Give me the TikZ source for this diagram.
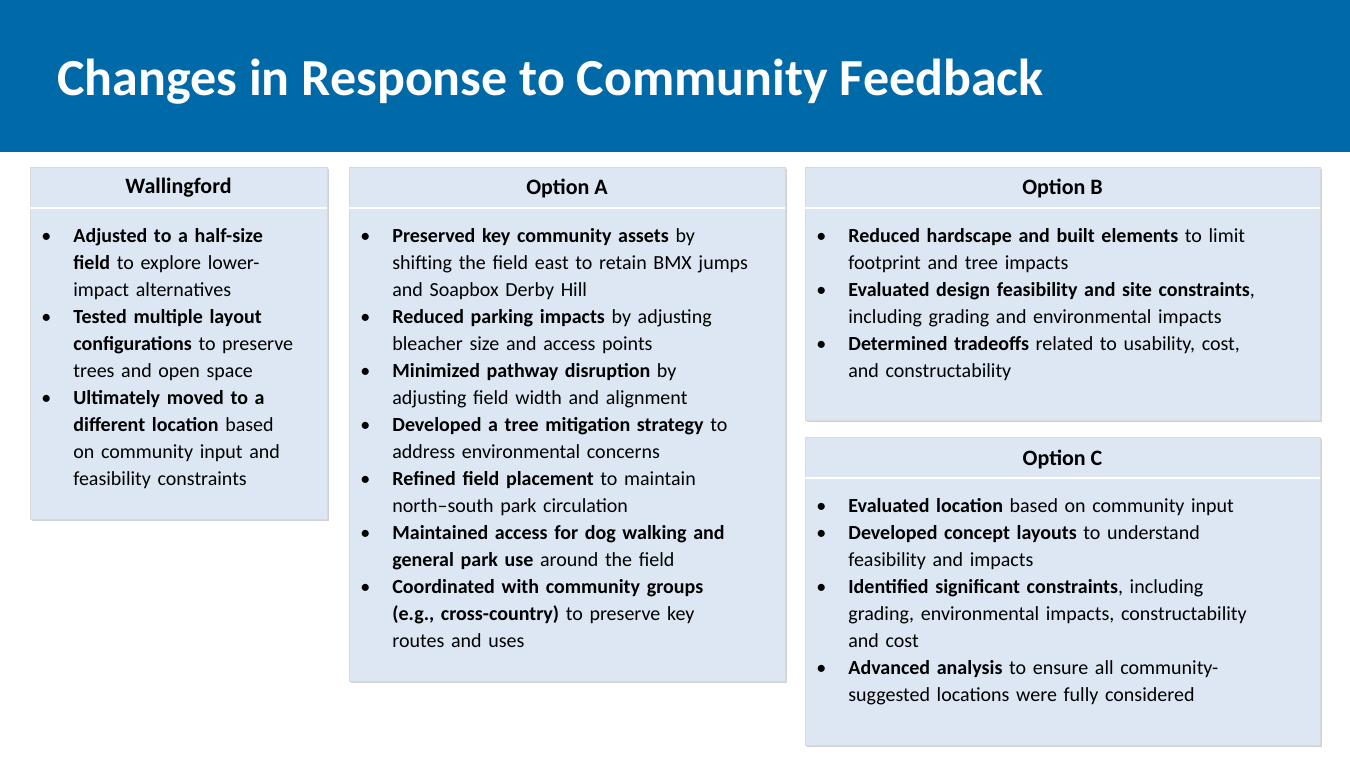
\documentclass[tikz,border=0pt]{standalone}
\usepackage{fontspec}
\setmainfont{Carlito}
\usetikzlibrary{shadows}
\definecolor{banner}{HTML}{0069A8}
\definecolor{panel}{HTML}{DCE7F3}
\newenvironment{bul}{\begin{list}{\textbullet}{\setlength\leftmargin{21.5pt}\setlength\labelwidth{10pt}\setlength\labelsep{11pt}\setlength\itemsep{0pt}\setlength\parsep{0pt}\setlength\topsep{0pt}}\raggedright}{\end{list}}
\tikzset{
  panel/.style={fill=panel, draw=gray!30, drop shadow={opacity=0.35, shadow xshift=1pt, shadow yshift=-1pt}},
  head/.style={anchor=center, font=\fontsize{11}{13}\selectfont\bfseries},
  body/.style={anchor=north west, inner sep=0pt, text width=#1, font=\fontsize{10}{13.5}\selectfont},
}
\begin{document}
\begin{tikzpicture}[x=0.5pt,y=-0.5pt]
  \useasboundingbox (0,0) rectangle (1350,760);
  \fill[white] (0,0) rectangle (1350,760);
  \fill[banner] (0,0) rectangle (1350,152);
  \node[anchor=base west, inner sep=0pt, text=white, font=\fontsize{26}{30}\selectfont\bfseries] (title) at (57,95) {Changes in Response to Community Feedback};
  % panels
  \draw[panel] (30,167) rectangle (327,519);
  \draw[panel] (349,167) rectangle (785,681);
  \draw[panel] (805,167) rectangle (1320,420);
  \draw[panel] (805,437) rectangle (1320,745);
  \draw[white, line width=1pt] (30,208) -- (327,208);
  \draw[white, line width=1pt] (349,208) -- (785,208);
  \draw[white, line width=1pt] (805,208) -- (1320,208);
  \draw[white, line width=1pt] (805,478) -- (1320,478);
  \node[head] (hW) at (178.5,188) {Wallingford};
  \node[head] (hA) at (567,188) {Option A};
  \node[head] (hB) at (1062.5,188) {Option B};
  \node[head] (hC) at (1062.5,459) {Option C};
  % bullet texts
  \node[body=140pt] (tW) at (30,215) {\begin{bul}
    \item \textbf{Adjusted to a half-size}\newline\textbf{field} to explore lower-\newline impact alternatives
    \item \textbf{Tested multiple layout}\newline\textbf{configurations} to preserve\newline trees and open space
    \item \textbf{Ultimately moved to a}\newline\textbf{different location} based\newline on community input and\newline feasibility constraints
  \end{bul}};
  \node[body=215pt] (tA) at (349,215) {\begin{bul}
    \item \textbf{Preserved key community assets} by\newline shifting the field east to retain BMX jumps\newline and Soapbox Derby Hill
    \item \textbf{Reduced parking impacts} by adjusting\newline bleacher size and access points
    \item \textbf{Minimized pathway disruption} by\newline adjusting field width and alignment
    \item \textbf{Developed a tree mitigation strategy} to\newline address environmental concerns
    \item \textbf{Refined field placement} to maintain\newline north--south park circulation
    \item \textbf{Maintained access for dog walking and}\newline\textbf{general park use} around the field
    \item \textbf{Coordinated with community groups}\newline\textbf{(e.g., cross-country)} to preserve key\newline routes and uses
  \end{bul}};
  \node[body=255pt] (tB) at (805,215) {\begin{bul}
    \item \textbf{Reduced hardscape and built elements} to limit\newline footprint and tree impacts
    \item \textbf{Evaluated design feasibility and site constraints},\newline including grading and environmental impacts
    \item \textbf{Determined tradeoffs} related to usability, cost,\newline and constructability
  \end{bul}};
  \node[body=255pt] (tC) at (805,485) {\begin{bul}
    \item \textbf{Evaluated location} based on community input
    \item \textbf{Developed concept layouts} to understand\newline feasibility and impacts
    \item \textbf{Identified significant constraints}, including\newline grading, environmental impacts, constructability\newline and cost
    \item \textbf{Advanced analysis} to ensure all community-\newline suggested locations were fully considered
  \end{bul}};
\end{tikzpicture}
\end{document}
